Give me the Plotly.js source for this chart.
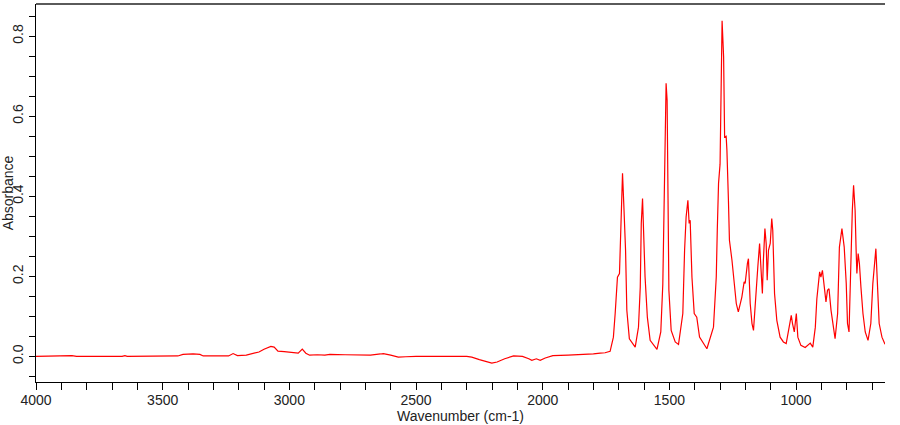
<!DOCTYPE html>
<html>
<head>
<meta charset="utf-8">
<script src="https://cdn.plot.ly/plotly-3.0.1.min.js"></script>
<style>
  html, body { margin: 0; padding: 0; background: #fff; }
  #chart { width: 900px; height: 425px; }
</style>
</head>
<body>
<div id="chart"></div>
<script>
// Wavenumber (cm-1)
const wavenumber = [
  4000, 3880, 3858, 3840, 3660, 3649, 3640, 3440, 3420, 3380, 3353, 3340,
  3240, 3222, 3205, 3170, 3140, 3120, 3100, 3073, 3060, 3045, 3020, 2990,
  2965, 2949, 2935, 2920, 2890, 2860, 2840, 2780, 2720, 2680, 2640, 2629,
  2600, 2570, 2540, 2500, 2300, 2280, 2250, 2220, 2201, 2180, 2150, 2115,
  2080, 2055, 2043, 2025, 2010, 1990, 1960, 1900, 1840, 1800, 1773, 1754,
  1734, 1721, 1714, 1705, 1697, 1690, 1685, 1680, 1673, 1668, 1658, 1635,
  1622, 1615, 1611, 1606, 1602, 1596, 1587, 1576, 1549, 1534, 1526, 1521,
  1517, 1513, 1509, 1505, 1502, 1493, 1477, 1464, 1447, 1440, 1434, 1427,
  1422, 1418, 1411, 1402, 1392, 1381, 1352, 1326, 1315, 1311, 1306, 1300,
  1296, 1292, 1286, 1282, 1276, 1273, 1267, 1263, 1253, 1244, 1236, 1228,
  1214, 1205, 1201, 1192, 1188, 1181, 1174, 1168, 1157, 1151, 1144, 1139,
  1133, 1129, 1123, 1118, 1114, 1109, 1102, 1096, 1092, 1085, 1076, 1063,
  1050, 1039, 1030, 1019, 1014, 1007, 999, 993, 981, 964, 944, 934,
  924, 918, 907, 902, 896, 889, 882, 876, 870, 862, 852, 846,
  836, 829, 819, 810, 802, 797, 791, 784, 778, 773, 767, 763,
  760, 755, 750, 744, 736, 727, 716, 705, 697, 685, 679, 672,
  661, 649
];
// Absorbance
const absorbance = [
  0.000, 0.001, 0.002, 0.000, 0.000, 0.002, 0.000, 0.001, 0.005, 0.006, 0.005, 0.001,
  0.001, 0.007, 0.002, 0.003, 0.008, 0.011, 0.018, 0.025, 0.023, 0.013, 0.012, 0.010,
  0.008, 0.018, 0.008, 0.003, 0.004, 0.003, 0.005, 0.004, 0.004, 0.003, 0.006, 0.007,
  0.003, -0.002, -0.001, 0.000, 0.000, -0.002, -0.008, -0.014, -0.017, -0.014, -0.006, 0.001,
  0.000, -0.006, -0.010, -0.006, -0.010, -0.004, 0.002, 0.003, 0.004, 0.006, 0.008, 0.009,
  0.0125, 0.048, 0.107, 0.198, 0.207, 0.336, 0.457, 0.380, 0.265, 0.115, 0.044, 0.023,
  0.073, 0.173, 0.332, 0.394, 0.323, 0.198, 0.098, 0.040, 0.0175, 0.061, 0.180, 0.350,
  0.550, 0.682, 0.640, 0.365, 0.165, 0.065, 0.036, 0.030, 0.107, 0.265, 0.348, 0.390,
  0.332, 0.340, 0.198, 0.107, 0.098, 0.048, 0.019, 0.073, 0.198, 0.315, 0.432, 0.480,
  0.620, 0.838, 0.748, 0.548, 0.550, 0.515, 0.390, 0.290, 0.240, 0.180, 0.132, 0.111,
  0.148, 0.186, 0.182, 0.232, 0.244, 0.132, 0.082, 0.065, 0.182, 0.223, 0.282, 0.207,
  0.157, 0.240, 0.319, 0.282, 0.190, 0.265, 0.282, 0.344, 0.315, 0.157, 0.090, 0.048,
  0.036, 0.032, 0.065, 0.1025, 0.082, 0.061, 0.107, 0.048, 0.0275, 0.022, 0.033, 0.023,
  0.073, 0.144, 0.211, 0.198, 0.215, 0.173, 0.136, 0.165, 0.169, 0.115, 0.073, 0.044,
  0.107, 0.273, 0.319, 0.273, 0.182, 0.082, 0.061, 0.273, 0.365, 0.4275, 0.365, 0.265,
  0.207, 0.257, 0.232, 0.173, 0.107, 0.061, 0.040, 0.082, 0.182, 0.269, 0.182, 0.082,
  0.048, 0.030
];

const fontFamily = '"Liberation Sans", Arial, sans-serif';

const trace = {
  x: wavenumber,
  y: absorbance,
  type: 'scatter',
  mode: 'lines',
  line: { color: '#ff0000', width: 1.2 },
  hoverinfo: 'x+y'
};

const layout = {
  width: 900,
  height: 425,
  margin: { l: 36, r: 15, t: 4, b: 43 },
  paper_bgcolor: '#ffffff',
  plot_bgcolor: '#ffffff',
  showlegend: false,
  font: { family: fontFamily, size: 14, color: '#222' },
  xaxis: {
    range: [4000, 649],
    dtick: 500,
    tick0: 0,
    ticks: 'outside',
    ticklen: 7,
    tickwidth: 1,
    tickcolor: '#000',
    ticklabelstandoff: -2,
    minor: { dtick: 100, ticks: 'outside', ticklen: 7, tickwidth: 1, tickcolor: '#000' },
    showgrid: false,
    zeroline: false,
    showline: true,
    linecolor: '#000',
    linewidth: 1,
    tickfont: { family: fontFamily, size: 14, color: '#222' },
    title: { text: 'Wavenumber (cm-1)', font: { family: fontFamily, size: 14, color: '#222' }, standoff: 0 }
  },
  yaxis: {
    range: [-0.064, 0.88],
    dtick: 0.2,
    tick0: 0,
    tickformat: '.1f',
    tickangle: -90,
    ticks: 'outside',
    ticklen: 6,
    tickwidth: 1,
    tickcolor: '#000',
    minor: { dtick: 0.05, ticks: 'outside', ticklen: 6, tickwidth: 1, tickcolor: '#000' },
    showgrid: false,
    zeroline: false,
    showline: true,
    linecolor: '#000',
    linewidth: 1,
    tickfont: { family: fontFamily, size: 14, color: '#222' },
    title: { text: 'Absorbance', font: { family: fontFamily, size: 14, color: '#222' }, standoff: 2 }
  },
  shapes: [
    { type: 'line', xref: 'paper', yref: 'paper', x0: 0, x1: 1, y0: 1, y1: 1,
      line: { color: '#5a5a5a', width: 2 } }
  ]
};

Plotly.newPlot('chart', [trace], layout, { displayModeBar: false, staticPlot: true });
</script>
</body>
</html>
